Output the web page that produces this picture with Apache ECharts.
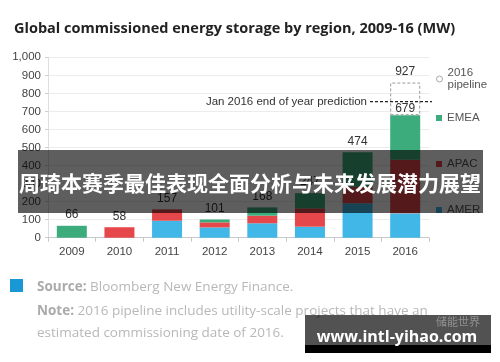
<!DOCTYPE html>
<html>
<head>
<meta charset="utf-8">
<script src="https://cdn.jsdelivr.net/npm/echarts@6/dist/echarts.min.js"></script>
<style>html,body{margin:0;padding:0;background:#fff;}#c{width:500px;height:362px;}</style>
</head>
<body>
<div id="c"></div>
<script>
const years = ['2009','2010','2011','2012','2013','2014','2015','2016'];
const amer = [0, 0, 94, 57, 80, 61, 191, 135];
const apac = [0, 58, 63, 28, 42, 102, 92, 297];
const emea = [66, 0, 0, 16, 46, 84, 191, 247];
const pipeline = ['-', '-', '-', '-', '-', '-', '-', 181];
const totalLabels = ['66', '58', '157', '101', '168', '247', '474', '679'];
const pipelineLabel = '927';
const predictionValue = 754;
const yTicks = [0, 100, 200, 300, 400, 500, 600, 700, 800, 900, 1000];

const C_AMER = '#40b7e6', C_APAC = '#e5474a', C_EMEA = '#3dac7c';
const chart = echarts.init(document.getElementById('c'), null, {renderer: 'canvas'});
const baseFont = 'Liberation Sans, Arial, sans-serif';

function legendItem(name, top, icon, itemStyle) {
  return {
    orient: 'vertical', left: 436, top: top, itemWidth: 6, itemHeight: 6,
    padding: 0, selectedMode: false,
    data: [{name: name, icon: icon, itemStyle: itemStyle}],
    textStyle: {fontFamily: baseFont, fontSize: 11.5, color: '#555', lineHeight: 12},
    formatter: n => n === '2016 pipeline' ? '2016\npipeline' : n
  };
}

const option = {
  animation: false,
  backgroundColor: '#fff',
  title: {
    text: 'Global commissioned energy storage by region, 2009-16 (MW)',
    left: 9, top: 16,
    textStyle: {fontFamily: 'Open Sans', fontWeight: 'bold', fontSize: 14.5, color: '#222'}
  },
  legend: [
    legendItem('2016 pipeline', 67, 'circle', {color: '#fff', borderColor: '#aaa', borderWidth: 1}),
    legendItem('EMEA', 112, 'rect', {color: C_EMEA}),
    legendItem('APAC', 158, 'rect', {color: C_APAC}),
    legendItem('AMER', 204, 'rect', {color: C_AMER})
  ],
  grid: {left: 48, right: 71, top: 57.3, bottom: 124.3, containLabel: false},
  xAxis: {
    type: 'category', data: years,
    axisLine: {lineStyle: {color: '#c8c8c8'}},
    axisTick: {show: true, length: 4, alignWithLabel: false, lineStyle: {color: '#c8c8c8'}},
    axisLabel: {fontFamily: baseFont, fontSize: 11.5, color: '#444', margin: 8}
  },
  yAxis: {
    type: 'value', min: yTicks[0], max: yTicks[yTicks.length - 1], interval: 100,
    axisLine: {show: true, lineStyle: {color: '#dedede'}},
    axisTick: {show: true, length: 3, lineStyle: {color: '#cfcfcf'}},
    splitLine: {lineStyle: {color: '#ececec'}},
    axisLabel: {fontFamily: baseFont, fontSize: 11.5, color: '#444', margin: 7,
      formatter: v => v.toLocaleString('en-US')}
  },
  series: [
    {name: 'AMER', type: 'bar', stack: 'total', barWidth: 30, data: amer,
     itemStyle: {color: C_AMER}},
    {name: 'APAC', type: 'bar', stack: 'total', barWidth: 30, data: apac,
     itemStyle: {color: C_APAC}},
    {name: 'EMEA', type: 'bar', stack: 'total', barWidth: 30,
     data: emea.map((v, i) => i === emea.length - 1 ? {value: v, label: {distance: 1}} : v),
     itemStyle: {color: C_EMEA},
     label: {show: true, position: 'top', distance: 5, fontFamily: baseFont, fontSize: 12, color: '#333',
       formatter: p => totalLabels[p.dataIndex]}},
    {name: '2016 pipeline', type: 'bar', stack: 'total', barWidth: 30, data: pipeline,
     itemStyle: {color: 'rgba(255,255,255,0)', borderColor: '#9a9a9a', borderWidth: 1, borderType: [3, 2]},
     label: {show: true, position: 'top', distance: 5, fontFamily: baseFont, fontSize: 12, color: '#333',
       formatter: () => pipelineLabel}}
  ]
};
chart.setOption(option);

const yPred = chart.convertToPixel({yAxisIndex: 0}, predictionValue);
const footFont = 'Open Sans';
const footSize = 13.5;

chart.setOption({
  graphic: [
    {type: 'line', z: 50, shape: {x1: 370, y1: yPred, x2: 432, y2: yPred},
     style: {stroke: '#222', lineWidth: 1.3, lineDash: [3, 2]}},
    {type: 'text', z: 50, x: 367, y: yPred, style: {text: 'Jan 2016 end of year prediction',
      fontFamily: baseFont, fontSize: 11.5, fill: '#333', align: 'right', verticalAlign: 'middle'}},
    // footer
    {type: 'rect', z: 50, shape: {x: 10, y: 279, width: 13, height: 13}, style: {fill: '#1a98d5'}},
    {type: 'text', z: 50, x: 37, y: 287, style: {
      text: '{b|Source:} Bloomberg New Energy Finance.',
      fontFamily: footFont, fontSize: footSize, fill: '#b8b8b8', verticalAlign: 'middle',
      rich: {b: {fontFamily: footFont, fontWeight: 'bold', fontSize: footSize, fill: '#aaaaaa'}}}},
    {type: 'text', z: 50, x: 37, y: 311, style: {
      text: '{b|Note:} 2016 pipeline includes utility-scale projects that have an',
      fontFamily: footFont, fontSize: footSize, fill: '#b8b8b8', verticalAlign: 'middle',
      rich: {b: {fontFamily: footFont, fontWeight: 'bold', fontSize: footSize, fill: '#aaaaaa'}}}},
    {type: 'text', z: 50, x: 37, y: 333, style: {
      text: 'estimated commissioning date of 2016.',
      fontFamily: footFont, fontSize: footSize, fill: '#b8b8b8', verticalAlign: 'middle'}},
    // overlay banner
    {type: 'rect', z: 100, shape: {x: 18, y: 150, width: 465, height: 63},
     style: {fill: 'rgba(0,0,0,0.63)'}},
    {type: 'text', z: 101, x: 250, y: 183, style: {
      text: '周琦本赛季最佳表现全面分析与未来发展潜力展望',
      fontFamily: 'Noto Sans CJK SC', fontWeight: 'bold', fontSize: 21, fill: '#fff',
      align: 'center', verticalAlign: 'middle'}},
    // watermark
    {type: 'rect', z: 100, shape: {x: 305, y: 315, width: 186, height: 30},
     style: {fill: 'rgba(0,0,0,0.68)'}},
    {type: 'rect', z: 100, shape: {x: 305, y: 345, width: 186, height: 8},
     style: {fill: '#000'}},
    {type: 'text', z: 101, x: 480, y: 322, style: {
      text: '储能世界', fontFamily: 'Noto Sans CJK SC', fontSize: 11, fill: 'rgba(255,255,255,0.35)',
      align: 'right', verticalAlign: 'middle'}},
    {type: 'text', z: 101, x: 397, y: 337, style: {
      text: 'www.intl-yihao.com', fontFamily: 'Open Sans', fontWeight: 'bold', fontSize: 16,
      fill: '#fff', align: 'center', verticalAlign: 'middle'}}
  ]
});
</script>
</body>
</html>
